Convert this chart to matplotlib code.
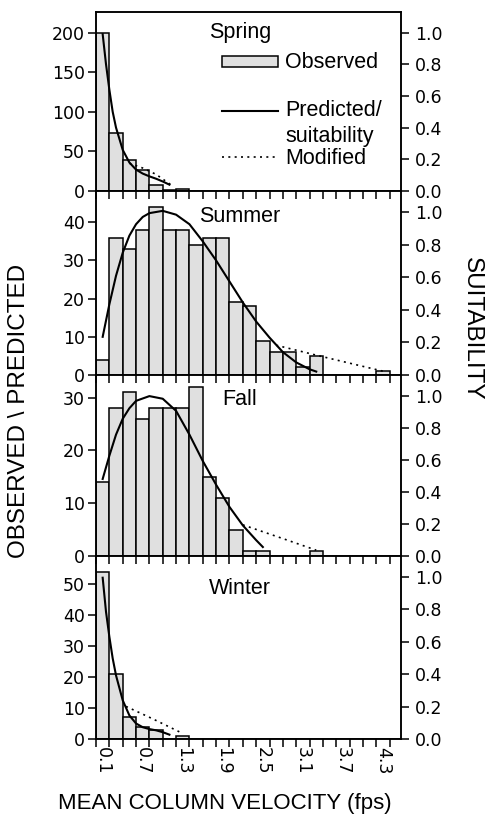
import matplotlib
matplotlib.use("Agg")
import matplotlib.pyplot as plt
from matplotlib.lines import Line2D
from matplotlib.patches import Rectangle

# ---------------- data ----------------
bin_centers = [0.1 + 0.2 * i for i in range(23)]
tick_label_pos = [0.1, 0.7, 1.3, 1.9, 2.5, 3.1, 3.7, 4.3]
tick_labels = ["0.1", "0.7", "1.3", "1.9", "2.5", "3.1", "3.7", "4.3"]
seasons = ["Spring", "Summer", "Fall", "Winter"]

spring_obs = [200, 73, 39, 26, 7, 1, 3, 0, 0, 0, 0, 0, 0, 0, 0, 0, 0, 0, 0, 0, 0, 0, 0]
summer_obs = [4, 36, 33, 38, 44, 38, 38, 34, 36, 36, 19, 18, 9, 6, 6, 2, 5, 0, 0, 0, 0, 1, 0]
fall_obs = [14, 28, 31, 26, 28, 28, 28, 32, 15, 11, 5, 1, 1, 0, 0, 0, 1, 0, 0, 0, 0, 0, 0]
winter_obs = [54, 21, 7, 4, 3, 0, 1, 0, 0, 0, 0, 0, 0, 0, 0, 0, 0, 0, 0, 0, 0, 0, 0]

spring_pred_x = [0.1, 0.15, 0.2, 0.25, 0.3, 0.4, 0.5, 0.6, 0.7, 0.8, 0.9, 1.0, 1.1]
spring_pred_y = [198, 160, 128, 100, 80, 52, 36, 27, 22, 18.5, 15.5, 12, 8]
spring_mod_x = [0.5, 0.7, 0.9, 1.12]
spring_mod_y = [35, 29, 21, 8]

summer_pred_x = [0.1, 0.2, 0.3, 0.4, 0.5, 0.6, 0.7, 0.8, 1.0, 1.2, 1.4, 1.6, 1.8, 2.0,
                 2.2, 2.4, 2.6, 2.8, 3.0, 3.2, 3.3]
summer_pred_y = [10, 18.5, 26, 32, 36.5, 39.5, 41.4, 42.4, 43, 42, 39.5, 35, 30, 24.5,
                 19, 14, 9.8, 6, 3.3, 1.5, 0.9]
summer_mod_x = [2.7, 3.3, 4.3]
summer_mod_y = [7.8, 5.2, 1.0]

fall_pred_x = [0.1, 0.2, 0.3, 0.4, 0.5, 0.6, 0.8, 1.0, 1.2, 1.4, 1.6, 1.8, 2.0, 2.2, 2.4, 2.5]
fall_pred_y = [14.6, 19, 23, 26, 28, 29.4, 30.3, 29.8, 27.5, 23, 18, 13.5, 9.3, 5.8, 3, 1.7]
fall_mod_x = [2.2, 2.8, 3.3]
fall_mod_y = [5.9, 3.3, 1.1]

winter_pred_x = [0.1, 0.15, 0.2, 0.25, 0.3, 0.4, 0.5, 0.6, 0.7, 0.8, 0.9, 1.0, 1.1]
winter_pred_y = [52, 41, 33, 26, 20.5, 12.5, 7.6, 5, 3.8, 3.2, 2.8, 2.2, 1.4]
winter_mod_x = [0.45, 0.85, 1.25]
winter_mod_y = [10.5, 6.5, 2.3]

left_ticks = [[0, 50, 100, 150, 200], [0, 10, 20, 30, 40], [0, 10, 20, 30], [0, 10, 20, 30, 40, 50]]
left_ylim = [226, 48.2, 34.3, 59]
right_ticks = [0.0, 0.2, 0.4, 0.6, 0.8, 1.0]
right_ylim = 1.13

obs = [spring_obs, summer_obs, fall_obs, winter_obs]
pred = [(spring_pred_x, spring_pred_y), (summer_pred_x, summer_pred_y),
        (fall_pred_x, fall_pred_y), (winter_pred_x, winter_pred_y)]
mod = [(spring_mod_x, spring_mod_y), (summer_mod_x, summer_mod_y),
       (fall_mod_x, fall_mod_y), (winter_mod_x, winter_mod_y)]
title_y = [0.888, 0.859, 0.862, 0.825]

# ---------------- figure ----------------
W, H = 491, 817
fig = plt.figure(figsize=(W / 100, H / 100), dpi=100)
bounds = [12, 191, 375, 556, 739]
x0, x1 = 96, 401
TXT = ["Liberation Sans", "DejaVu Sans"]
NUM = ["DejaVu Sans"]
lw = 1.1
bar_face = "#e0e0e0"
dots = (0, (1.2, 2.6))

for i in range(4):
    top, bot = bounds[i], bounds[i + 1]
    ax = fig.add_axes([x0 / W, 1 - bot / H, (x1 - x0) / W, (bot - top) / H])
    ax.set_facecolor("none")
    ax.bar(bin_centers, obs[i], width=0.2, color=bar_face, edgecolor="black",
           linewidth=lw, zorder=2)
    ax.plot(pred[i][0], pred[i][1], color="black", lw=1.5, zorder=3)
    ax.plot(mod[i][0], mod[i][1], color="black", lw=1.2, linestyle=dots, zorder=3)
    ax.set_xlim(0, 4.57)
    ax.set_ylim(0, left_ylim[i])
    ax.set_yticks(left_ticks[i])
    ax.set_yticklabels([str(v) for v in left_ticks[i]], family=NUM, fontsize=12.5)
    ax.set_xticks([0.2 * k for k in range(23)])
    ax.tick_params(axis="x", which="major", direction="out", length=6, width=lw, labelbottom=False)
    ax.tick_params(axis="y", direction="out", length=6, width=lw, pad=2)
    if i == 3:
        ax.set_xticks(tick_label_pos, minor=True)
        ax.set_xticklabels(tick_labels, minor=True, rotation=-90, family=NUM, fontsize=12.5)
        ax.tick_params(axis="x", which="minor", length=0, pad=6)
    for s in ax.spines.values():
        s.set_linewidth(lw)
    if i > 0:
        ax.spines["top"].set_visible(False)
    ax.text(0.472, title_y[i], seasons[i], transform=ax.transAxes, ha="center", va="center",
            family=TXT, fontsize=15.5)

    axr = ax.twinx()
    axr.set_ylim(0, right_ylim)
    axr.set_yticks(right_ticks)
    axr.set_yticklabels(["%.1f" % v for v in right_ticks], family=NUM, fontsize=12.5)
    axr.tick_params(axis="y", direction="out", length=6, width=lw, pad=4)
    for s in axr.spines.values():
        s.set_linewidth(lw)
    if i > 0:
        axr.spines["top"].set_visible(False)

    if i == 0:
        # legend drawn inside the Spring panel
        ax.add_patch(Rectangle((0.413, 0.69), 0.184, 0.062, transform=ax.transAxes,
                               facecolor=bar_face, edgecolor="black", lw=lw, zorder=4))
        ax.add_line(Line2D([0.413, 0.597], [0.447, 0.447], transform=ax.transAxes,
                           color="black", lw=1.5))
        ax.add_line(Line2D([0.413, 0.597], [0.19, 0.19], transform=ax.transAxes,
                           color="black", lw=1.2, linestyle=dots))
        ax.text(0.62, 0.72, "Observed", transform=ax.transAxes, va="center", family=TXT, fontsize=15.5)
        ax.text(0.62, 0.447, "Predicted/", transform=ax.transAxes, va="center", family=TXT, fontsize=15.5)
        ax.text(0.62, 0.302, "suitability", transform=ax.transAxes, va="center", family=TXT, fontsize=15.5)
        ax.text(0.62, 0.18, "Modified", transform=ax.transAxes, va="center", family=TXT, fontsize=15.5)

fig.text(19 / W, 1 - 411 / H, "OBSERVED \\ PREDICTED", rotation=90, ha="center", va="center",
         family=["Liberation Sans Narrow", "Liberation Sans"], fontsize=17.5)
fig.text(472 / W, 1 - 329 / H, "SUITABILITY", rotation=-90, ha="center", va="center",
         family=["Liberation Sans Narrow", "Liberation Sans"], fontsize=17.5)
fig.text(225 / W, 1 - 803 / H, "MEAN COLUMN VELOCITY (fps)", ha="center", va="center",
         family=TXT, fontsize=16)

fig.savefig("out.png", dpi=100)
